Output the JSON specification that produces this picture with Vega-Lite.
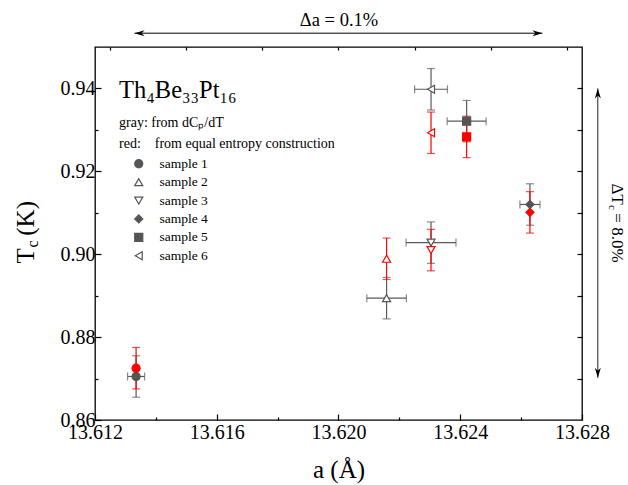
{
  "$schema": "https://vega.github.io/schema/vega-lite/v6.json",
  "width": 487,
  "height": 373,
  "autosize": {"type": "none"},
  "padding": {"left": 95, "top": 47, "right": 46, "bottom": 65},
  "background": "#ffffff",
  "config": {
    "font": "Liberation Serif",
    "view": {"stroke": "#000000", "strokeWidth": 1.3},
    "axis": {"grid": false, "domain": false, "tickColor": "#000000", "tickWidth": 1.2, "labelColor": "#000000", "titleColor": "#000000", "labelFont": "Liberation Serif", "titleFont": "Liberation Serif", "titleFontWeight": "normal", "labelFontSize": 20, "labelFlush": false}
  },
  "data": {
    "values": [
      {"sample": "sample 1", "method": "gray", "a": 13.61335, "tc": 0.8705, "a_err": 0.00028, "tc_err": 0.005},
      {"sample": "sample 2", "method": "gray", "a": 13.62158, "tc": 0.8894, "a_err": 0.00065, "tc_err": 0.005},
      {"sample": "sample 3", "method": "gray", "a": 13.62304, "tc": 0.9028, "a_err": 0.00082, "tc_err": 0.005},
      {"sample": "sample 4", "method": "gray", "a": 13.62629, "tc": 0.912, "a_err": 0.00033, "tc_err": 0.005},
      {"sample": "sample 5", "method": "gray", "a": 13.62421, "tc": 0.9321, "a_err": 0.00064, "tc_err": 0.005},
      {"sample": "sample 6", "method": "gray", "a": 13.62304, "tc": 0.9398, "a_err": 0.00054, "tc_err": 0.005},
      {"sample": "sample 1", "method": "red", "a": 13.61335, "tc": 0.8725, "a_err": 0, "tc_err": 0.005},
      {"sample": "sample 2", "method": "red", "a": 13.62158, "tc": 0.8989, "a_err": 0, "tc_err": 0.005},
      {"sample": "sample 3", "method": "red", "a": 13.62304, "tc": 0.901, "a_err": 0, "tc_err": 0.005},
      {"sample": "sample 4", "method": "red", "a": 13.62629, "tc": 0.9101, "a_err": 0, "tc_err": 0.005},
      {"sample": "sample 5", "method": "red", "a": 13.62421, "tc": 0.9283, "a_err": 0, "tc_err": 0.005},
      {"sample": "sample 6", "method": "red", "a": 13.62304, "tc": 0.9293, "a_err": 0, "tc_err": 0.005}
    ]
  },
  "layer": [
    {
      "mark": {"type": "text", "text": ""},
      "encoding": {
        "x": {"field": "a", "type": "quantitative", "scale": {"domain": [13.612, 13.628], "nice": false, "zero": false},
          "axis": {"orient": "bottom", "values": [13.612, 13.616, 13.62, 13.624, 13.628], "format": ".3f", "tickSize": -6, "labelPadding": 8, "title": "a (Å)", "titleFontSize": 25, "titleY": 57, "titleBaseline": "alphabetic"}},
        "y": {"field": "tc", "type": "quantitative", "scale": {"domain": [0.86, 0.95], "nice": false, "zero": false},
          "axis": {"orient": "left", "values": [0.86, 0.88, 0.9, 0.92, 0.94], "format": ".2f", "tickSize": -6, "labelPadding": 6, "title": "T\u2002(K)", "titleFontSize": 25, "titleAngle": -90, "titleAlign": "left", "titleBaseline": "alphabetic", "titleX": -62, "titleY": 216}}
      }
    },
    {
      "mark": {"type": "text", "text": ""},
      "encoding": {
        "x": {"field": "a", "type": "quantitative", "scale": {"domain": [13.612, 13.628], "nice": false, "zero": false},
          "axis": {"orient": "bottom", "values": [13.614, 13.618, 13.622, 13.626], "tickSize": -3, "labels": false, "title": null}},
        "y": {"field": "tc", "type": "quantitative", "scale": {"domain": [0.86, 0.95], "nice": false, "zero": false},
          "axis": {"orient": "left", "values": [0.87, 0.89, 0.91, 0.93], "tickSize": -3, "labels": false, "title": "c", "titleFontSize": 16, "titleAngle": -90, "titleAlign": "left", "titleBaseline": "alphabetic", "titleX": -58, "titleY": 200}}
      }
    },
    {
      "mark": {"type": "text", "text": ""},
      "encoding": {
        "x": {"field": "a", "type": "quantitative", "scale": {"domain": [13.612, 13.628], "nice": false, "zero": false},
          "axis": {"orient": "top", "values": [13.6125, 13.615, 13.6175, 13.62, 13.6225, 13.625, 13.6275], "tickSize": -3, "labels": false, "title": "Δa = 0.1%", "titleFontSize": 18.5, "titleY": -22, "titleBaseline": "alphabetic"}},
        "y": {"field": "tc", "type": "quantitative", "scale": {"domain": [0.86, 0.95], "nice": false, "zero": false},
          "axis": {"orient": "right", "values": [0.87, 0.88, 0.89, 0.9, 0.91, 0.92, 0.93, 0.94], "tickSize": -5, "labels": false, "title": "ΔT\u2002= 8.0%", "titleFontSize": 17, "titleAngle": 90, "titleAlign": "left", "titleBaseline": "alphabetic", "titleX": 29, "titleY": 136}}
      }
    },
    {
      "mark": {"type": "text", "text": ""},
      "encoding": {
        "x": {"field": "a", "type": "quantitative", "scale": {"domain": [13.612, 13.628], "nice": false, "zero": false}, "axis": null},
        "y": {"field": "tc", "type": "quantitative", "scale": {"domain": [0.86, 0.95], "nice": false, "zero": false},
          "axis": {"orient": "right", "ticks": false, "labels": false, "title": "c", "titleFontSize": 11, "titleAngle": 90, "titleAlign": "left", "titleBaseline": "alphabetic", "titleX": 26, "titleY": 157.5}}
      }
    },
    {
      "transform": [{"filter": "datum.method === 'gray'"}],
      "mark": {"type": "errorbar", "ticks": {"size": 8}, "color": "#5a5a5a", "thickness": 1.2},
      "encoding": {
        "x": {"field": "a", "type": "quantitative", "scale": {"domain": [13.612, 13.628], "nice": false, "zero": false}, "axis": null},
        "xError": {"field": "a_err"},
        "y": {"field": "tc", "type": "quantitative", "scale": {"domain": [0.86, 0.95], "nice": false, "zero": false}, "axis": null}
      }
    },
    {
      "transform": [{"filter": "datum.method === 'gray'"}],
      "mark": {"type": "errorbar", "ticks": {"size": 8}, "color": "#5a5a5a", "thickness": 1.2},
      "encoding": {
        "x": {"field": "a", "type": "quantitative", "scale": {"domain": [13.612, 13.628], "nice": false, "zero": false}, "axis": null},
        "y": {"field": "tc", "type": "quantitative", "scale": {"domain": [0.86, 0.95], "nice": false, "zero": false}, "axis": null},
        "yError": {"field": "tc_err"}
      }
    },
    {
      "transform": [{"filter": "datum.method === 'red'"}],
      "mark": {"type": "errorbar", "ticks": {"size": 8}, "color": "#ff0000", "thickness": 1.2},
      "encoding": {
        "x": {"field": "a", "type": "quantitative", "scale": {"domain": [13.612, 13.628], "nice": false, "zero": false}, "axis": null},
        "y": {"field": "tc", "type": "quantitative", "scale": {"domain": [0.86, 0.95], "nice": false, "zero": false}, "axis": null},
        "yError": {"field": "tc_err"}
      }
    },
    {
      "transform": [{"filter": "datum.method === 'gray'"}],
      "mark": {"type": "point", "filled": true, "stroke": "#555555", "opacity": 1, "size": 65, "strokeWidth": 1.2},
      "encoding": {
        "x": {"field": "a", "type": "quantitative", "scale": {"domain": [13.612, 13.628], "nice": false, "zero": false}, "axis": null},
        "y": {"field": "tc", "type": "quantitative", "scale": {"domain": [0.86, 0.95], "nice": false, "zero": false}, "axis": null},
        "shape": {"field": "sample", "type": "nominal",
          "scale": {"domain": ["sample 1", "sample 2", "sample 3", "sample 4", "sample 5", "sample 6"], "range": ["circle", "triangle-up", "triangle-down", "diamond", "square", "triangle-left"]},
          "legend": {"orient": "none", "legendX": 24, "legendY": 69, "title": ["gray: from dCₚ/dT", "red:\u00a0\u00a0\u00a0\u00a0from equal entropy construction"], "titleFontSize": 14, "titleFontWeight": "normal", "titleFont": "Liberation Serif", "titleColor": "#000000", "titleLineHeight": 21, "titlePadding": 6, "titleLimit": 400, "labelFontSize": 13.5, "labelFont": "Liberation Serif", "labelColor": "#000000", "symbolOffset": 13, "labelOffset": 14, "rowPadding": 3.4, "symbolSize": 65, "symbolStrokeWidth": 1.2}},
        "fill": {"field": "sample", "type": "nominal",
          "scale": {"domain": ["sample 1", "sample 2", "sample 3", "sample 4", "sample 5", "sample 6"], "range": ["#555555", "#ffffff", "#ffffff", "#555555", "#555555", "#ffffff"]},
          "legend": {"orient": "none", "legendX": 24, "legendY": 69, "title": ["gray: from dCₚ/dT", "red:\u00a0\u00a0\u00a0\u00a0from equal entropy construction"], "titleFontSize": 14, "titleFontWeight": "normal", "titleFont": "Liberation Serif", "titleColor": "#000000", "titleLineHeight": 21, "titlePadding": 6, "titleLimit": 400, "labelFontSize": 13.5, "labelFont": "Liberation Serif", "labelColor": "#000000", "symbolOffset": 13, "labelOffset": 14, "rowPadding": 3.4, "symbolSize": 65, "symbolStrokeWidth": 1.2}}
      }
    },
    {
      "transform": [{"filter": "datum.method === 'red'"}],
      "mark": {"type": "point", "filled": true, "stroke": "#ff0000", "opacity": 1, "size": 65, "strokeWidth": 1.2},
      "encoding": {
        "x": {"field": "a", "type": "quantitative", "scale": {"domain": [13.612, 13.628], "nice": false, "zero": false}, "axis": null},
        "y": {"field": "tc", "type": "quantitative", "scale": {"domain": [0.86, 0.95], "nice": false, "zero": false}, "axis": null},
        "shape": {"field": "sample", "type": "nominal",
          "scale": {"domain": ["sample 1", "sample 2", "sample 3", "sample 4", "sample 5", "sample 6"], "range": ["circle", "triangle-up", "triangle-down", "diamond", "square", "triangle-left"]},
          "legend": null},
        "fill": {"condition": {"test": "indexof(['sample 2','sample 3','sample 6'], datum.sample) >= 0", "value": "#ffffff"}, "value": "#ff0000"}
      }
    },
    {
      "data": {"values": [{}]},
      "mark": {"type": "text", "text": "Th₄Be₃₃Pt₁₆", "fontSize": 24.5, "align": "left", "baseline": "alphabetic", "font": "Liberation Serif", "color": "#000000"},
      "encoding": {
        "x": {"datum": 13.61279, "type": "quantitative", "scale": {"domain": [13.612, 13.628], "nice": false, "zero": false}, "axis": null},
        "y": {"datum": 0.93773, "type": "quantitative", "scale": {"domain": [0.86, 0.95], "nice": false, "zero": false}, "axis": null}
      }
    },
    {
      "data": {"values": [{}]},
      "mark": {"type": "rule", "color": "#000000", "strokeWidth": 1},
      "encoding": {
        "x": {"datum": 13.6133, "type": "quantitative", "scale": {"domain": [13.612, 13.628], "nice": false, "zero": false}, "axis": null},
        "x2": {"datum": 13.6267},
        "y": {"datum": 0.95333, "type": "quantitative", "scale": {"domain": [0.86, 0.95], "nice": false, "zero": false}, "axis": null}
      }
    },
    {
      "data": {"values": [{}]},
      "mark": {"type": "point", "shape": "M0,0L2,-0.6L1.4,0L2,0.6Z", "size": 100, "filled": true, "color": "#000000", "opacity": 1, "strokeWidth": 0},
      "encoding": {
        "x": {"datum": 13.6133, "type": "quantitative", "scale": {"domain": [13.612, 13.628], "nice": false, "zero": false}, "axis": null},
        "y": {"datum": 0.95333, "type": "quantitative", "scale": {"domain": [0.86, 0.95], "nice": false, "zero": false}, "axis": null}
      }
    },
    {
      "data": {"values": [{}]},
      "mark": {"type": "point", "shape": "M0,0L-2,-0.6L-1.4,0L-2,0.6Z", "size": 100, "filled": true, "color": "#000000", "opacity": 1, "strokeWidth": 0},
      "encoding": {
        "x": {"datum": 13.6267, "type": "quantitative", "scale": {"domain": [13.612, 13.628], "nice": false, "zero": false}, "axis": null},
        "y": {"datum": 0.95333, "type": "quantitative", "scale": {"domain": [0.86, 0.95], "nice": false, "zero": false}, "axis": null}
      }
    },
    {
      "data": {"values": [{}]},
      "mark": {"type": "rule", "color": "#222222", "strokeWidth": 1},
      "encoding": {
        "x": {"datum": 13.62852, "type": "quantitative", "scale": {"domain": [13.612, 13.628], "nice": false, "zero": false}, "axis": null},
        "y": {"datum": 0.8702, "type": "quantitative", "scale": {"domain": [0.86, 0.95], "nice": false, "zero": false}, "axis": null},
        "y2": {"datum": 0.94}
      }
    },
    {
      "data": {"values": [{}]},
      "mark": {"type": "point", "shape": "M0,0L-0.6,2L0,1.4L0.6,2Z", "size": 100, "filled": true, "color": "#000000", "opacity": 1, "strokeWidth": 0},
      "encoding": {
        "x": {"datum": 13.62852, "type": "quantitative", "scale": {"domain": [13.612, 13.628], "nice": false, "zero": false}, "axis": null},
        "y": {"datum": 0.94, "type": "quantitative", "scale": {"domain": [0.86, 0.95], "nice": false, "zero": false}, "axis": null}
      }
    },
    {
      "data": {"values": [{}]},
      "mark": {"type": "point", "shape": "M0,0L-0.6,-2L0,-1.4L0.6,-2Z", "size": 100, "filled": true, "color": "#000000", "opacity": 1, "strokeWidth": 0},
      "encoding": {
        "x": {"datum": 13.62852, "type": "quantitative", "scale": {"domain": [13.612, 13.628], "nice": false, "zero": false}, "axis": null},
        "y": {"datum": 0.8702, "type": "quantitative", "scale": {"domain": [0.86, 0.95], "nice": false, "zero": false}, "axis": null}
      }
    }
  ],
  "resolve": {"axis": {"x": "independent", "y": "independent"}}
}
